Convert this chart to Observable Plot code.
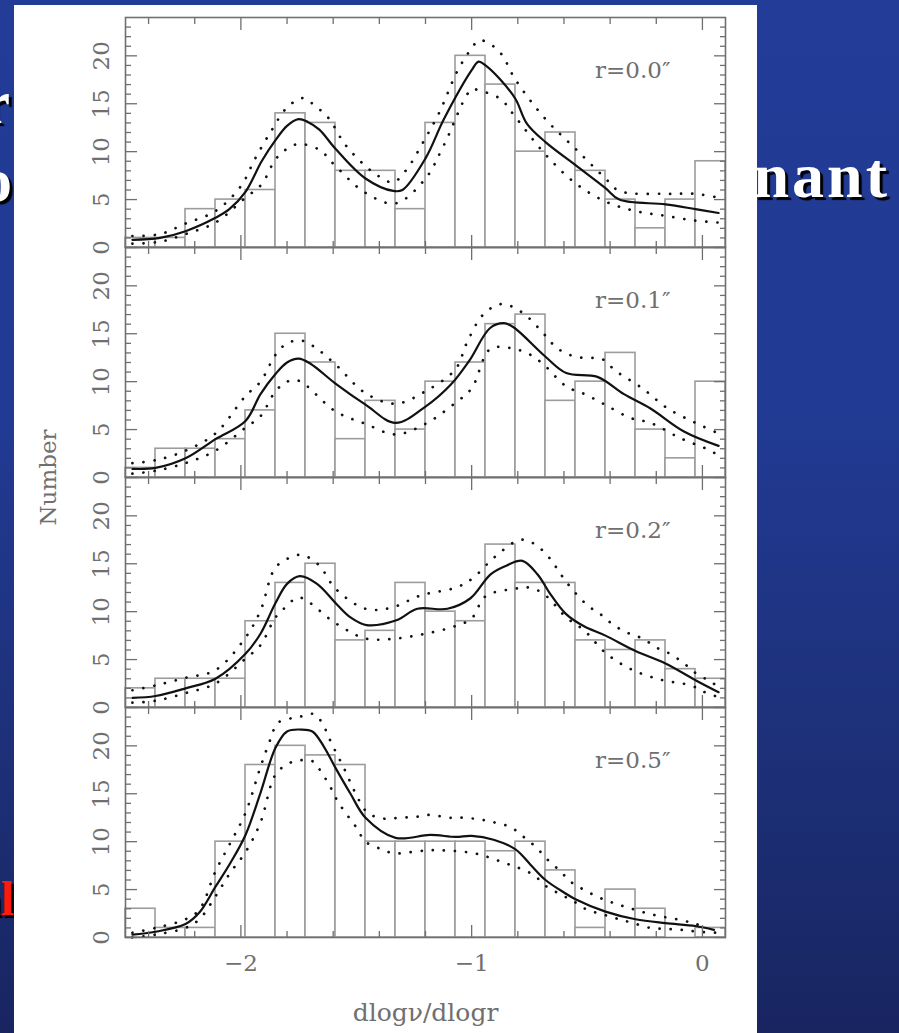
<!DOCTYPE html>
<html>
<head>
<meta charset="utf-8">
<script src="https://cdn.jsdelivr.net/npm/d3@7"></script>
<script src="https://cdn.jsdelivr.net/npm/@observablehq/plot@0.6"></script>
<style>
  html, body { margin: 0; padding: 0; }
  body {
    width: 899px; height: 1033px; position: relative; overflow: hidden;
    background: linear-gradient(180deg, #223c97 0%, #213a93 40%, #1d3079 72%, #182561 100%);
  }
  .clip { position: absolute; top: 0; height: 1033px; overflow: hidden; }
  .word {
    position: absolute; white-space: nowrap; font-family: "Liberation Serif", serif;
    font-weight: bold; color: #fff; text-shadow: 3px 3px 1px #000;
  }
  #sheet { position: absolute; left: 14px; top: 5px; width: 743px; height: 1028px; background: #fff; }
  #sheet svg { display: block; }
</style>
</head>
<body>
<!-- slide title words running behind the figure sheet -->
<div class="clip" style="left:0;width:14px">
  <div class="word" style="right:4px;top:71px;font-size:62px;line-height:62px">for</div>
  <div class="word" style="right:2px;top:149px;font-size:62px;line-height:62px">two</div>
  <div class="word" style="right:-24px;top:875px;font-size:48px;line-height:48px;color:#ff1a10">only</div>
</div>
<div class="clip" style="left:757px;width:142px">
  <div class="word" style="right:9px;top:144px;font-size:64px;line-height:64px;letter-spacing:3px">Dominant</div>
</div>
<div id="sheet"></div>
<script>
// Histograms of the logarithmic slope dlogν/dlogr at four radii,
// each with a smoothed estimate (solid) and its confidence band (dotted).
const panels = ["r=0.0″", "r=0.1″", "r=0.2″", "r=0.5″"];

// bin edges of the histograms
const binEdges = [-2.5, -2.37, -2.24, -2.11, -1.98, -1.85, -1.72, -1.59, -1.46, -1.33, -1.2,
  -1.07, -0.94, -0.81, -0.68, -0.55, -0.42, -0.29, -0.16, -0.03, 0.1];

// counts per bin
const counts00 = [1, 1, 4, 5, 6, 14, 13, 8, 8, 4, 13, 20, 17, 10, 12, 8, 5, 2, 5, 9];
const counts01 = [1, 3, 3, 4, 7, 15, 12, 4, 8, 5, 10, 12, 16, 17, 8, 10, 13, 5, 2, 10];
const counts02 = [2, 3, 3, 3, 9, 13, 15, 7, 8, 13, 10, 9, 17, 13, 13, 7, 6, 7, 4, 3];
const counts05 = [3, 1, 1, 10, 18, 20, 19, 18, 10, 10, 10, 10, 9, 10, 7, 1, 5, 3, 0, 1];

// smoothed estimate [slope, number]
const fit00 = [[-2.47,0.8],[-2.35,1.0],[-2.24,1.7],[-2.11,3.1],[-2.05,4.0],[-1.98,5.8],[-1.91,9.0],[-1.85,11.2],[-1.8,12.7],[-1.75,13.4],[-1.71,13.1],[-1.66,12.3],[-1.59,10.3],[-1.46,7.2],[-1.34,5.9],[-1.3,6.0],[-1.2,9.3],[-1.12,13.4],[-1.0,18.5],[-0.97,19.4],[-0.94,19.0],[-0.875,17.5],[-0.81,15.5],[-0.76,12.9],[-0.68,11.0],[-0.55,8.6],[-0.42,6.2],[-0.36,5.0],[-0.16,4.5],[-0.03,4.0],[0.07,3.6]];
const hi00 = [[-2.47,1.2],[-2.35,1.4],[-2.24,2.5],[-2.11,3.8],[-2.0,6.4],[-1.94,9.2],[-1.87,12.1],[-1.8,14.6],[-1.73,15.6],[-1.68,14.8],[-1.62,13.5],[-1.55,10.8],[-1.46,8.5],[-1.4,7.4],[-1.34,6.8],[-1.28,8.2],[-1.21,11.0],[-1.14,14.1],[-1.06,18.5],[-1.0,20.8],[-0.97,21.6],[-0.94,21.5],[-0.875,20.3],[-0.81,17.5],[-0.68,13.4],[-0.55,10.3],[-0.42,7.2],[-0.36,5.9],[-0.16,5.6],[-0.03,5.6],[0.07,5.2]];
const lo00 = [[-2.47,0.4],[-2.35,0.6],[-2.24,1.4],[-2.11,2.6],[-1.98,5.2],[-1.91,6.6],[-1.85,9.2],[-1.8,10.3],[-1.75,10.8],[-1.66,10.2],[-1.59,8.5],[-1.46,5.7],[-1.33,4.6],[-1.2,7.2],[-1.12,10.7],[-1.0,16.5],[-0.97,16.4],[-0.875,15.5],[-0.81,13.6],[-0.68,9.7],[-0.55,6.7],[-0.42,4.8],[-0.29,3.8],[-0.16,3.3],[-0.03,2.8],[0.07,2.6]];

const fit01 = [[-2.47,0.9],[-2.37,1.0],[-2.24,2.0],[-2.11,4.0],[-1.98,5.9],[-1.915,8.7],[-1.85,10.8],[-1.8,12.0],[-1.75,12.4],[-1.7,11.9],[-1.59,9.8],[-1.46,7.6],[-1.33,5.7],[-1.2,7.4],[-1.09,9.7],[-1.01,12.2],[-0.92,15.6],[-0.86,16.1],[-0.82,15.7],[-0.68,12.6],[-0.59,10.9],[-0.455,10.5],[-0.34,8.7],[-0.225,7.2],[-0.08,4.8],[0.07,3.3]];
const hi01 = [[-2.47,1.5],[-2.37,1.8],[-2.24,2.8],[-2.11,4.6],[-1.98,8.5],[-1.915,10.0],[-1.85,12.8],[-1.8,14.0],[-1.74,14.3],[-1.68,13.6],[-1.59,11.8],[-1.46,8.8],[-1.33,7.7],[-1.2,9.0],[-1.07,11.3],[-1.02,14.1],[-0.95,17.0],[-0.87,18.1],[-0.78,17.2],[-0.68,14.8],[-0.63,13.5],[-0.55,12.6],[-0.43,12.3],[-0.38,11.2],[-0.26,9.3],[-0.15,7.2],[-0.03,5.7],[0.07,4.6]];
const lo01 = [[-2.47,0.4],[-2.37,0.7],[-2.24,1.5],[-2.11,2.8],[-1.98,5.2],[-1.915,6.4],[-1.85,9.0],[-1.8,10.0],[-1.75,10.1],[-1.59,6.9],[-1.46,5.6],[-1.33,4.5],[-1.2,5.6],[-1.07,7.8],[-1.0,9.3],[-0.92,13.4],[-0.83,13.5],[-0.745,12.8],[-0.68,11.6],[-0.59,9.5],[-0.51,8.7],[-0.43,7.7],[-0.31,6.2],[-0.225,5.7],[-0.095,4.1],[0.035,2.8],[0.08,2.1]];

const fit02 = [[-2.47,1.0],[-2.37,1.2],[-2.24,2.0],[-2.11,3.0],[-1.98,5.6],[-1.915,7.7],[-1.85,10.9],[-1.8,12.9],[-1.745,13.7],[-1.67,12.9],[-1.586,10.8],[-1.525,9.4],[-1.456,8.6],[-1.326,9.1],[-1.235,10.3],[-1.105,10.3],[-1.005,11.4],[-0.918,13.9],[-0.85,14.8],[-0.78,15.3],[-0.715,13.9],[-0.658,11.8],[-0.593,9.8],[-0.515,8.5],[-0.42,7.5],[-0.29,5.9],[-0.16,4.6],[-0.026,2.8],[0.07,1.6]];
const hi02 = [[-2.47,1.8],[-2.37,2.3],[-2.24,3.1],[-2.11,3.9],[-1.98,7.3],[-1.915,10.1],[-1.85,14.6],[-1.77,15.8],[-1.73,15.9],[-1.66,14.8],[-1.59,12.4],[-1.46,10.3],[-1.35,10.4],[-1.22,11.7],[-1.07,12.5],[-1.0,13.4],[-0.9,15.7],[-0.79,17.5],[-0.73,17.1],[-0.67,15.8],[-0.63,14.5],[-0.59,13.1],[-0.5,10.7],[-0.44,9.7],[-0.385,8.6],[-0.325,7.8],[-0.26,7.2],[-0.195,6.2],[-0.14,5.6],[-0.08,4.6],[-0.03,3.6],[0.035,2.7],[0.08,2.0]];
const lo02 = [[-2.47,0.5],[-2.37,0.7],[-2.24,1.5],[-2.11,2.5],[-1.98,5.1],[-1.915,6.5],[-1.85,9.4],[-1.8,10.6],[-1.75,11.5],[-1.59,8.8],[-1.46,7.2],[-1.33,7.2],[-1.2,7.7],[-1.07,8.5],[-1.0,9.3],[-0.94,11.6],[-0.81,12.4],[-0.745,12.5],[-0.68,11.7],[-0.59,9.4],[-0.51,8.0],[-0.42,5.7],[-0.31,4.0],[-0.18,2.9],[-0.05,2.3],[0.01,1.6],[0.08,1.0]];

const fit05 = [[-2.47,0.3],[-2.37,0.6],[-2.24,1.4],[-2.18,2.6],[-2.11,5.3],[-2.045,7.8],[-1.98,10.7],[-1.915,15.1],[-1.85,19.8],[-1.8,21.5],[-1.74,21.7],[-1.69,21.5],[-1.64,19.9],[-1.59,17.7],[-1.525,15.0],[-1.46,12.5],[-1.33,10.4],[-1.18,10.7],[-1.07,10.5],[-1.0,10.6],[-0.905,10.2],[-0.81,9.2],[-0.745,7.6],[-0.68,6.0],[-0.6,4.7],[-0.55,4.0],[-0.42,2.7],[-0.29,1.9],[-0.16,1.5],[-0.03,1.2],[0.05,0.8]];
const hi05 = [[-2.47,0.5],[-2.37,1.0],[-2.24,1.9],[-2.18,2.9],[-2.11,6.9],[-2.045,9.9],[-1.98,13.0],[-1.915,17.8],[-1.87,20.8],[-1.84,22.4],[-1.75,23.0],[-1.68,23.3],[-1.64,22.0],[-1.61,20.4],[-1.55,17.5],[-1.52,15.9],[-1.49,14.4],[-1.45,13.0],[-1.38,12.4],[-1.31,12.5],[-1.24,12.6],[-1.18,12.8],[-1.1,12.5],[-1.035,12.5],[-0.96,12.3],[-0.9,12.0],[-0.83,11.5],[-0.775,10.5],[-0.72,9.4],[-0.67,8.1],[-0.615,6.9],[-0.57,5.8],[-0.515,5.0],[-0.45,4.2],[-0.385,3.6],[-0.32,3.1],[-0.25,2.6],[-0.18,2.2],[-0.11,1.9],[-0.04,1.5],[0.02,1.0]];
const lo05 = [[-2.47,0.0],[-2.37,0.3],[-2.24,1.0],[-2.18,1.9],[-2.11,4.3],[-2.045,6.8],[-1.98,8.9],[-1.915,12.0],[-1.85,17.0],[-1.79,18.2],[-1.74,18.5],[-1.69,18.4],[-1.65,17.2],[-1.61,15.6],[-1.58,14.2],[-1.54,12.8],[-1.5,11.5],[-1.46,10.0],[-1.4,9.3],[-1.34,8.8],[-1.265,8.9],[-1.19,9.1],[-1.13,9.1],[-1.06,9.0],[-0.99,8.8],[-0.93,8.4],[-0.86,7.8],[-0.8,7.3],[-0.73,6.5],[-0.68,5.4],[-0.615,4.5],[-0.56,3.8],[-0.5,2.9],[-0.43,2.4],[-0.36,1.9],[-0.3,1.5],[-0.225,1.0],[-0.16,0.9],[-0.09,0.8],[-0.02,0.6],[0.06,0.5]];

// tick positions
const majorY = [0, 5, 10, 15, 20];
const minorY = [1, 2, 3, 4, 6, 7, 8, 9, 11, 12, 13, 14, 16, 17, 18, 19, 21, 22, 23];
const majorX = [-2, -1, 0];
const minorX = [-2.4, -2.2, -1.8, -1.6, -1.4, -1.2, -0.8, -0.6, -0.4, -0.2];

const xLabel = "dlogν/dlogr";
const yLabel = "Number";

// assemble tidy tables for Plot
const countSets = [counts00, counts01, counts02, counts05];
const fitSets = [fit00, fit01, fit02, fit05];
const hiSets = [hi00, hi01, hi02, hi05];
const loSets = [lo00, lo01, lo02, lo05];

const bars = panels.flatMap((panel, i) =>
  countSets[i].map((n, j) => ({panel, x1: binEdges[j], x2: binEdges[j + 1], n})));
const rows = (sets) => panels.flatMap((panel, i) => sets[i].map(([x, y]) => ({panel, x, y})));
const fits = rows(fitSets);
const bandHi = rows(hiSets);
const bandLo = rows(loSets);

const ink = "#6f6f6f";
const signed = (d) => (d < 0 ? "−" : "") + Math.abs(d);
const dotted = {x: "x", y: "y", fy: "panel", z: "panel", curve: "catmull-rom", stroke: "#111",
  strokeWidth: 2.7, strokeDasharray: "0.1 11", strokeLinecap: "round"};
const inTicks = (anchor, axis, ticks, size) => axis({anchor, ticks, tickSize: -size, fill: "none",
  label: null, stroke: ink, strokeWidth: 1.3, facetAnchor: null});

const chart = Plot.plot({
  width: 743,
  height: 1028,
  marginLeft: 111,
  marginRight: 32,
  marginTop: 10,
  marginBottom: 95,
  style: {background: "transparent", fontFamily: "'DejaVu Serif', serif", color: ink},
  x: {domain: [-2.5, 0.1]},
  y: {domain: [0, 24]},
  fy: {domain: panels, padding: 0, axis: null},
  marks: [
    Plot.rect(bars, {x1: "x1", x2: "x2", y1: 0, y2: "n", fy: "panel", fill: "white",
      stroke: "#9c9c9c", strokeWidth: 1.6}),
    Plot.line(bandHi, dotted),
    Plot.line(bandLo, dotted),
    Plot.line(fits, {x: "x", y: "y", fy: "panel", z: "panel", curve: "catmull-rom",
      stroke: "#111", strokeWidth: 2.2}),
    Plot.frame({stroke: "#707070", strokeWidth: 1.6}),
    inTicks("left", Plot.axisY, minorY, 6),
    inTicks("left", Plot.axisY, majorY, 12),
    inTicks("right", Plot.axisY, minorY, 6),
    inTicks("right", Plot.axisY, majorY, 12),
    inTicks("bottom", Plot.axisX, minorX, 6),
    inTicks("bottom", Plot.axisX, majorX, 12),
    inTicks("top", Plot.axisX, minorX, 6),
    inTicks("top", Plot.axisX, majorX, 12),
    Plot.axisY({anchor: "left", ticks: majorY, tickSize: 0, tickPadding: 17, tickRotate: -90,
      label: null, fontSize: 23, fill: ink}),
    Plot.axisX({anchor: "bottom", ticks: majorX, tickSize: 0, tickPadding: 17, label: null,
      tickFormat: signed, fontSize: 23, fill: ink, facetAnchor: "bottom"}),
    Plot.text(panels, {fy: (d) => d, text: (d) => d, frameAnchor: "top-right", textAnchor: "end",
      lineAnchor: "top", dx: -55, dy: 44, fontSize: 23, fill: ink}),
    Plot.text([yLabel], {fy: () => panels[1], text: (d) => d, frameAnchor: "bottom-left",
      rotate: -90, textAnchor: "middle", lineAnchor: "middle", dx: -77, fontSize: 23, fill: ink}),
    Plot.text([xLabel], {fy: () => panels[3], text: (d) => d, frameAnchor: "bottom",
      lineAnchor: "middle", dy: 75, fontSize: 25, fill: ink})
  ]
});

document.getElementById("sheet").append(chart);
</script>
</body>
</html>
